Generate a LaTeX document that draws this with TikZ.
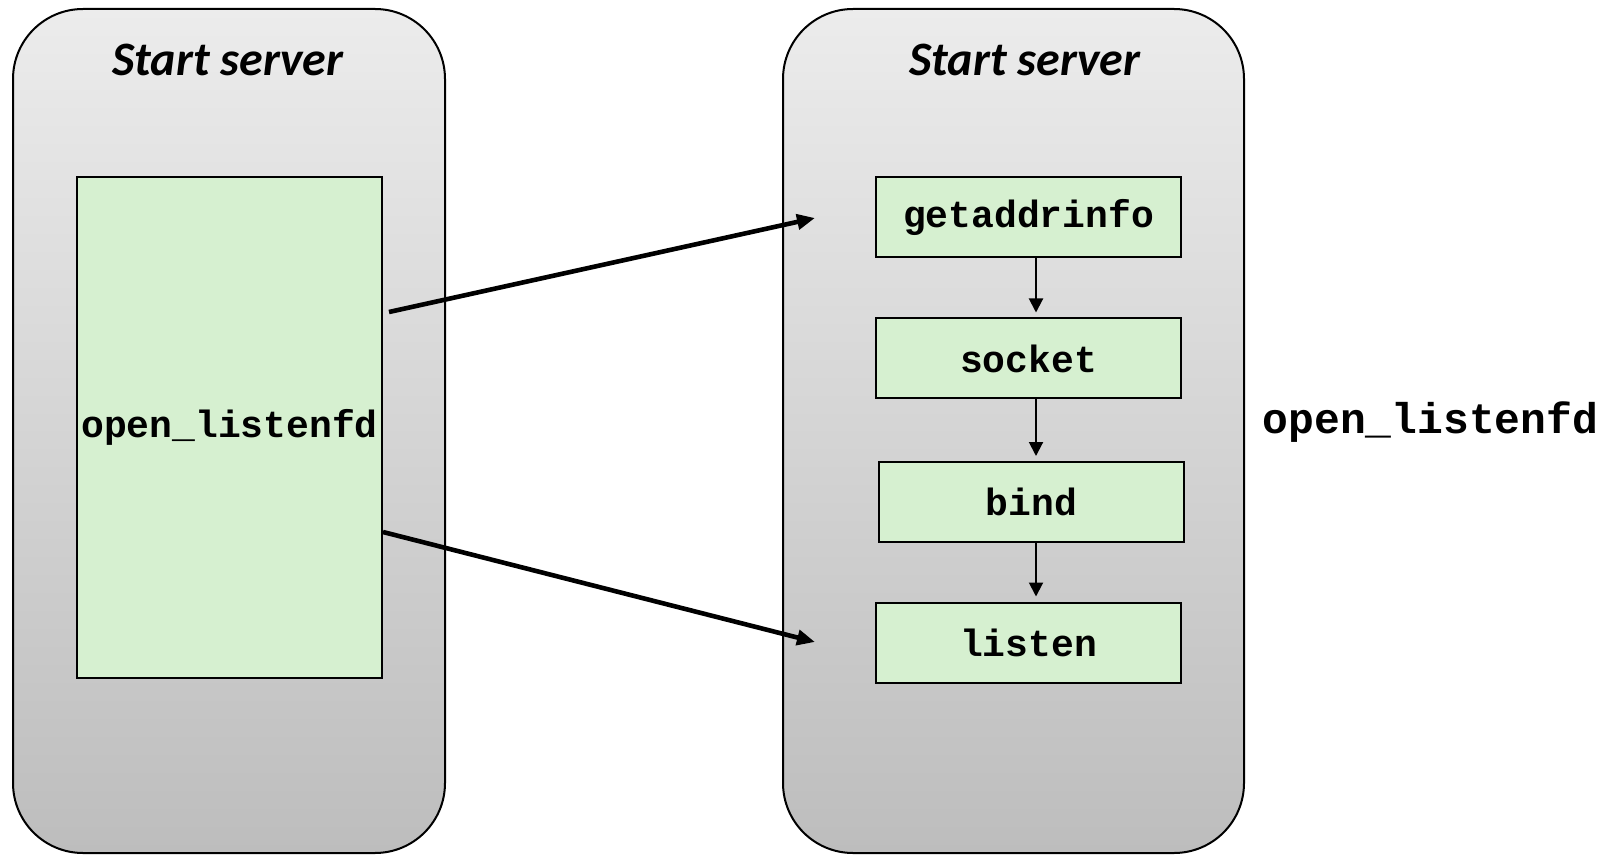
\documentclass[tikz,border=0pt]{standalone}
\usepackage{fontspec}
\setmainfont{Carlito}
\setmonofont{Liberation Mono}
\usetikzlibrary{arrows.meta,positioning}
\definecolor{boxgreen}{RGB}{214,240,208}
\definecolor{paneltop}{RGB}{236,236,236}
\definecolor{panelbot}{RGB}{189,189,189}

\tikzset{
  panel/.style={draw=black,line width=1pt,rounded corners=35pt,top color=paneltop,bottom color=panelbot},
  callbox/.style={draw=black,fill=boxgreen,line width=1pt,inner sep=0pt,minimum width=152.5pt,minimum height=40pt,font=\fontsize{19}{22}\selectfont\ttfamily\bfseries},
  title/.style={anchor=base,font=\fontsize{24}{28}\selectfont\bfseries\itshape},
  callarrow/.style={line width=2.3pt,-{Triangle[length=9pt,width=7.5pt]}},
  steparrow/.style={line width=1pt,-{Triangle[length=7pt,width=7pt]},shorten >=2.5pt}
}

\begin{document}
\begin{tikzpicture}[x=0.5pt,y=-0.5pt]
\fill[white] (0,0) rectangle (1616,855);
\useasboundingbox (0,0) rectangle (1616,855);
% panels
\draw[panel] (13,9) rectangle (445,853);
\draw[panel] (783,9) rectangle (1244,853);
\node[title] (ltitle) at (228,76) {Start server};
\node[title] (rtitle) at (1025,76) {Start server};
% caller
\node[callbox,minimum height=250.5pt] (lbox) at (229.5,427.5) {open\_listenfd};
% steps
\node[callbox] (get) at (1028.5,217) {getaddrinfo};
\node[callbox] (sock) at (1028.5,358.5) {socket};
\node[callbox] (bind) at (1031.5,502) {bind};
\node[callbox] (lis) at (1028.5,642.5) {listen};
\node[anchor=base,font=\fontsize{21.5}{25}\selectfont\ttfamily\bfseries] (olabel) at (1430.5,433) {open\_listenfd};
% arrows
\coordinate (gettip) at (815,218);
\coordinate (listip) at (815,642);
\draw[callarrow] ([xshift=3pt,yshift=57.75pt]lbox.east) -- (gettip);
\draw[callarrow] ([yshift=-52.25pt]lbox.east) -- (listip);
\draw[steparrow] ([xshift=3.75pt]get.south) -- ([xshift=3.75pt]sock.north);
\draw[steparrow] ([xshift=3.75pt]sock.south) -- ([xshift=2.25pt]bind.north);
\draw[steparrow] ([xshift=2.25pt]bind.south) -- ([xshift=3.75pt]lis.north);
\end{tikzpicture}
\end{document}
